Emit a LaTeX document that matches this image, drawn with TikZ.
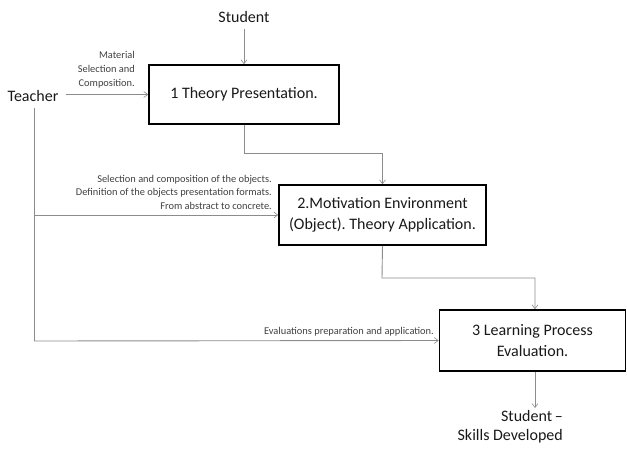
\documentclass[tikz,border=0pt]{standalone}
\usepackage{fontspec}
\setmainfont{Carlito}
\usetikzlibrary{arrows.meta,calc}
\frenchspacing
\begin{document}
\begin{tikzpicture}[x=1pt,y=-1pt,
  box/.style={draw=black,line width=1.6pt,fill=white,align=center,font=\fontsize{16}{21}\selectfont,text=black!90,inner sep=0pt},
  big/.style={font=\fontsize{16}{19}\selectfont,text=black!90,inner sep=0pt},
  small/.style={font=\fontsize{10.4}{13.8}\selectfont,text=black!75,align=right,inner sep=0pt},
  conn/.style={draw=black!45,line width=0.9pt,-{Straight Barb[length=4pt,width=6pt,line width=0.6pt]}},
  line/.style={draw=black!45,line width=0.9pt}]
\useasboundingbox (0,0) rectangle (627,450);
% boxes
\node[box,minimum width=190pt,minimum height=59pt] (b1) at (244,94.5) {1 Theory Presentation.};
\node[box,minimum width=207pt,minimum height=60pt] (b2) at (382.5,215) {2.Motivation Environment\\(Object). Theory Application.};
\node[box,minimum width=186pt,minimum height=61pt] (b3) at (532.5,340.5) {3 Learning Process\\Evaluation.};
% outer labels
\node[big] (st) at (244,17) {Student};
\node[big] (te) at (33,96) {Teacher};
\node[big,align=right,anchor=north east] (sk) at (563,410) {Student\,–\\Skills Developed};
% small labels
\node[small,anchor=south east] (l1) at (135,88) {Material\\Selection and\\Composition.};
\node[small,anchor=south east] (l2) at (272,210) {Selection and composition of the objects.\\Definition of the objects presentation formats.\\From abstract to concrete.};
\node[small,anchor=south east] (l3) at (434,336) {Evaluations preparation and application.};
% coordinates
\coordinate (tv) at (34,108);
\coordinate (tb) at (34,341);
\coordinate (t2) at (34,215);
\coordinate (ta) at (66,94.5);
\coordinate (c1) at (244,153);
\coordinate (c2) at (382,278);
\coordinate (x3) at (535,0);
\coordinate (sk1) at (535,408);
% connectors
\draw[conn] (st.south) ++(0,6) -- (b1.north);
\draw[conn] (ta) -- (b1.west);
\draw[line] (tv) -- (tb);
\draw[conn] (t2) -- (b2.west);
\draw[conn] (tb) -- (b3.west);
\draw[conn] (b1.south) -- (c1) -| (b2.north);
\draw[conn] (b2.south) -- (c2) -| (b3.north -| x3);
\draw[conn] (b3.south -| x3) -- (sk1);
\end{tikzpicture}
\end{document}
